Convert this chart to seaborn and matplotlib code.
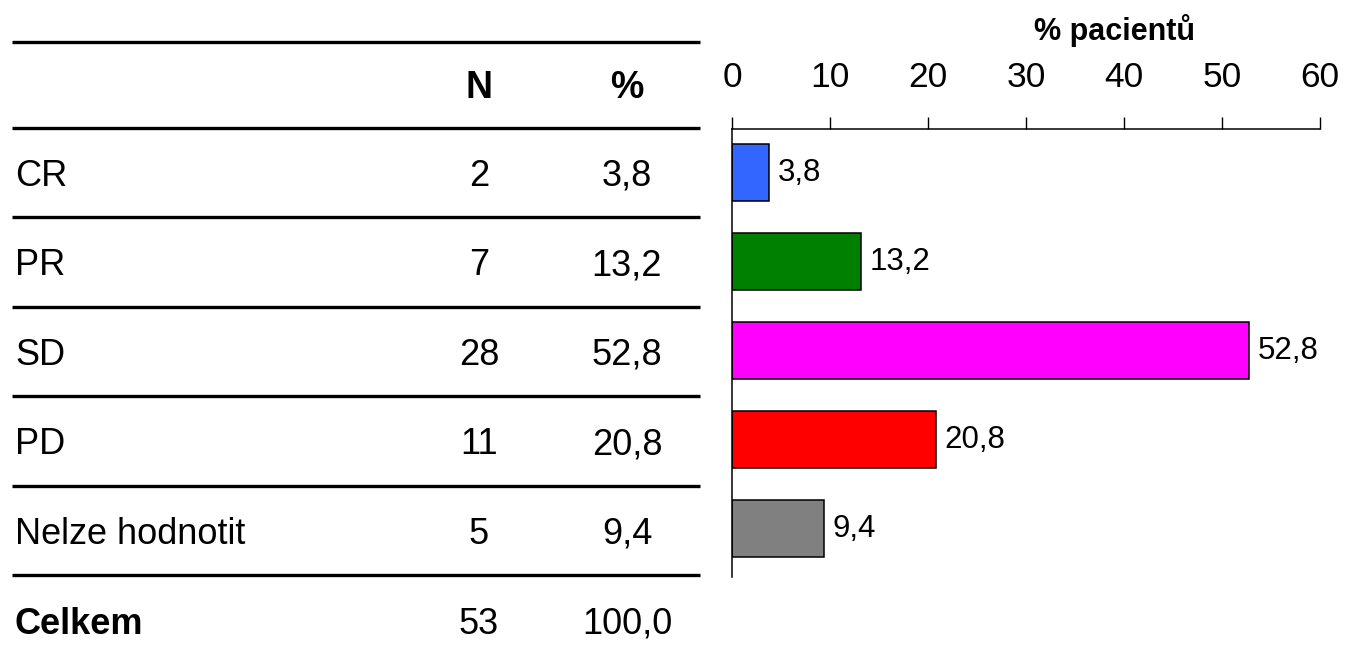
import matplotlib
matplotlib.use("Agg")
import matplotlib.pyplot as plt
import seaborn as sns
import pandas as pd

# data
categories = ["CR", "PR", "SD", "PD", "Nelze hodnotit"]
counts = [2, 7, 28, 11, 5]
percents = [3.8, 13.2, 52.8, 20.8, 9.4]
total_label = "Celkem"
total_count = 53
total_percent = 100.0
bar_colors = ["#3366FF", "#008000", "#FF00FF", "#FF0000", "#808080"]
x_ticks = [0, 10, 20, 30, 40, 50, 60]


def fmt(v):
    return f"{v:.1f}".replace(".", ",")


W, H = 1346, 660
sns.set_theme(style="white")
plt.rcParams["font.family"] = ["Liberation Sans", "DejaVu Sans"]
plt.rcParams["text.color"] = "black"

fig = plt.figure(figsize=(W / 100, H / 100), dpi=100)

# table drawn on an overlay in pixel coordinates
tab = fig.add_axes([0, 0, 1, 1], zorder=0)
tab.set_xlim(0, W)
tab.set_ylim(H, 0)
tab.axis("off")

row_step = 89.4
col_label, col_n, col_pct = 15, 479, 627
line_x0, line_x1 = 12, 700
lines_y = [42, 128] + [128 + row_step * (i + 1) for i in range(len(categories))]

for y in lines_y:
    tab.plot([line_x0, line_x1], [y, y], color="black", lw=2.4, solid_capstyle="butt")

tab.text(col_n, 98, "N", ha="center", va="baseline", fontsize=27, fontweight="bold")
tab.text(col_pct, 98, "%", ha="center", va="baseline", fontsize=27, fontweight="bold")

for i, (cat, n, p) in enumerate(zip(categories, counts, percents)):
    y = lines_y[i + 1] + 58
    tab.text(col_label, y, cat, ha="left", va="baseline", fontsize=26)
    tab.text(col_n, y, str(n), ha="center", va="baseline", fontsize=26)
    tab.text(col_pct, y, fmt(p), ha="center", va="baseline", fontsize=26)

y = lines_y[-1] + 59
tab.text(col_label, y, total_label, ha="left", va="baseline", fontsize=26, fontweight="bold")
tab.text(col_n, y, str(total_count), ha="center", va="baseline", fontsize=26)
tab.text(col_pct, y, fmt(total_percent), ha="center", va="baseline", fontsize=26)

# bar chart
ax_left, ax_right, ax_top, ax_bottom = 732, 1320, 129, 577
ax = fig.add_axes([ax_left / W, 1 - ax_bottom / H, (ax_right - ax_left) / W,
                   (ax_bottom - ax_top) / H], zorder=1)
ax.patch.set_alpha(0)

df = pd.DataFrame({"cat": categories, "pct": percents})
sns.barplot(data=df, x="pct", y="cat", hue="cat", palette=bar_colors, saturation=1,
            width=0.64, edgecolor="black", linewidth=1.1, legend=False, ax=ax)

for cont, v in zip(ax.containers, percents):
    ax.bar_label(cont, labels=[fmt(v)], padding=6, fontsize=22.5, color="black")

ax.set_xlim(0, 60)
ax.set_ylim(len(categories) - 1 + 0.54, -0.494)
ax.set_xticks(x_ticks)
ax.xaxis.tick_top()
ax.tick_params(axis="x", direction="out", length=8.5, width=1, pad=17,
               labelsize=25.5, colors="black", top=True, bottom=False)
ax.tick_params(axis="y", left=False, labelleft=False)
ax.set_xlabel("")
ax.set_ylabel("")
for side in ["right", "bottom"]:
    ax.spines[side].set_visible(False)
for side in ["left", "top"]:
    ax.spines[side].set_color("black")
    ax.spines[side].set_linewidth(1.1)

ax.text((1114 - ax_left) / (ax_right - ax_left), (ax_bottom - 31) / (ax_bottom - ax_top),
        "% pacientů", transform=ax.transAxes, ha="center", va="center",
        fontsize=22, fontweight="bold")

fig.savefig("out.png", dpi=100)
